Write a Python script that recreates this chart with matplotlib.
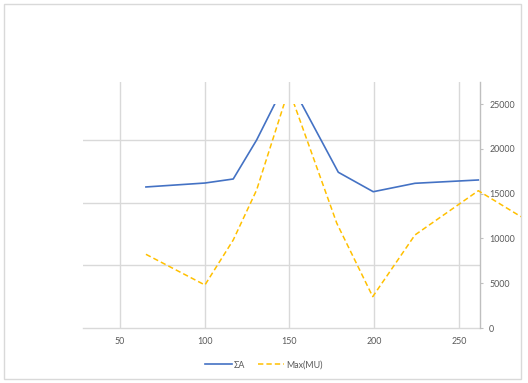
import matplotlib
matplotlib.use("Agg")
import matplotlib.pyplot as plt
from matplotlib.patches import Rectangle
from matplotlib.lines import Line2D

plt.rcParams['font.family'] = ['Lato', 'DejaVu Sans']

# Data (secondary/right-axis units)
sum_a_x = [65.3, 100.1, 116.8, 130.6, 149.0, 178.8, 199.4, 224.0, 261.4]
sum_a_y = [15740, 16180, 16630, 20980, 27900, 17380, 15210, 16150, 16520]
max_mu_x = [65.3, 100.1, 116.8, 130.6, 149.6, 177.9, 199.1, 224.0, 261.4, 286.6]
max_mu_y = [8225, 4800, 9820, 15400, 26650, 11690, 3500, 10380, 15320, 12420]
x_ticks = [50, 100, 150, 200, 250]
y_ticks = [0, 5000, 10000, 15000, 20000, 25000]
series_names = ['ΣA', 'Max(MU)']

BLUE = '#4472C4'
GOLD = '#FFC000'
GRID = '#D9D9D9'
TXT = '#595959'
FS = 6.4

W, H = 528, 383
fig = plt.figure(figsize=(W / 100, H / 100), dpi=100)

def fx(px):
    return px / W

def fy(py):
    return 1 - py / H

# chart border
fig.patches.append(Rectangle((fx(3.5), fy(378.5)), fx(517), 375 / H, transform=fig.transFigure,
                             fill=False, edgecolor=GRID, linewidth=1.0))

x_left_px, x_right_px = 83, 479.5
top_px, bottom_px = 82, 328
px_per_unit = 339 / 200.0
x0 = 50 + (x_left_px - 120) / px_per_unit
x1 = 50 + (x_right_px - 120) / px_per_unit

# background axes: grid + x axis
bg = fig.add_axes([fx(x_left_px), fy(bottom_px), (x_right_px - x_left_px) / W, (bottom_px - top_px) / H])
bg.set_xlim(x0, x1)
step = (bottom_px - 140) / 3.0
bg.set_ylim(0, (bottom_px - top_px) / step)
bg.set_xticks(x_ticks)
bg.set_yticks([1, 2, 3])
bg.grid(True, color=GRID, linewidth=1.0)
bg.set_axisbelow(True)
for s in ['top', 'left', 'right']:
    bg.spines[s].set_visible(False)
bg.spines['bottom'].set_color(GRID)
bg.spines['bottom'].set_linewidth(1.0)
bg.tick_params(axis='x', length=0, pad=6.5, labelsize=FS, labelcolor=TXT)
bg.tick_params(axis='y', length=0, labelleft=False)
bg.patch.set_visible(False)

# right axis
ymax_bg = 25000 * (bottom_px - top_px) / (bottom_px - 104)
rt = bg.twinx()
rt.set_ylim(0, ymax_bg)
rt.set_yticks(y_ticks)
rt.set_yticklabels([str(v) for v in y_ticks])
for s in ['top', 'left', 'bottom']:
    rt.spines[s].set_visible(False)
rt.spines['right'].set_color('#BFBFBF')
rt.spines['right'].set_linewidth(1.0)
rt.tick_params(axis='y', length=2.5, width=0.8, color='#BFBFBF', pad=4.5, labelsize=FS, labelcolor=TXT)

# data axes
data_right_px = 521
xd1 = 50 + (data_right_px - 120) / px_per_unit
da = fig.add_axes([fx(x_left_px), fy(bottom_px), (data_right_px - x_left_px) / W, (bottom_px - 104) / H])
da.set_xlim(x0, xd1)
da.set_ylim(0, 25000)
da.axis('off')
da.patch.set_visible(False)
da.plot(sum_a_x, sum_a_y, color=BLUE, linewidth=1.2, solid_joinstyle='round')
da.plot(max_mu_x, max_mu_y, color=GOLD, linewidth=1.1, dashes=(3.5, 2))

handles = [Line2D([], [], color=BLUE, linewidth=1.2),
           Line2D([], [], color=GOLD, linewidth=1.1, dashes=(3.5, 2))]
fig.legend(handles, series_names, loc='center', bbox_to_anchor=(fx(264), fy(365)), ncol=2,
           frameon=False, fontsize=FS, labelcolor=TXT, handlelength=3.0, handletextpad=0.2,
           columnspacing=1.4, borderpad=0, borderaxespad=0)

fig.savefig('out.png', dpi=100)
